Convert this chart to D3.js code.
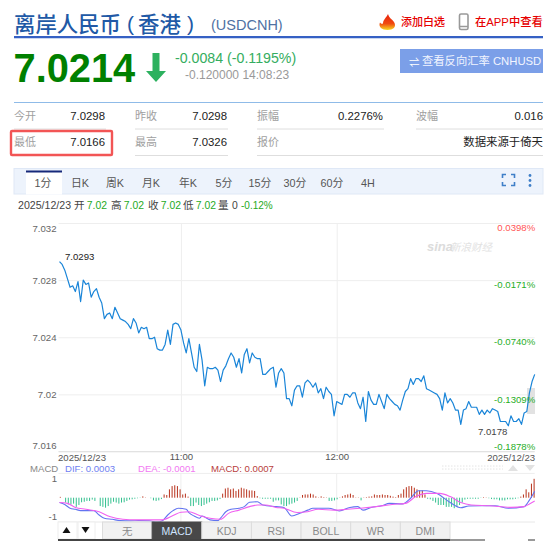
<!DOCTYPE html>
<html>
<head>
<meta charset="utf-8">
<title>离岸人民币（香港）</title>
<script src="https://cdn.jsdelivr.net/npm/d3@7/dist/d3.min.js"></script>
<style>
  html, body { margin: 0; padding: 0; background: #fff; }
  svg { display: block; font-family: "Liberation Sans", "Noto Sans CJK SC", sans-serif; }
  .domain { display: none; }
</style>
</head>
<body>
<div id="chart"></div>
<script>
// one-minute closes, USDCNH
var prices = [
  7.0293, 7.0291, 7.0287, 7.0281, 7.0275, 7.0276, 7.0272, 7.0279, 7.0265, 7.0280,
  7.0277, 7.0278, 7.0268, 7.0272, 7.0274, 7.0268, 7.0264, 7.0253, 7.0256, 7.0257,
  7.0253, 7.0261, 7.0257, 7.0253, 7.0252, 7.0251, 7.0249, 7.0246, 7.0253, 7.0250,
  7.0243, 7.0247, 7.0246, 7.0247, 7.0239, 7.0239, 7.0240, 7.0232, 7.0231, 7.0231,
  7.0235, 7.0245, 7.0235, 7.0249, 7.0250, 7.0249, 7.0245, 7.0236, 7.0229, 7.0239,
  7.0229, 7.0219, 7.0216, 7.0235, 7.0224, 7.0206, 7.0219, 7.0218, 7.0218, 7.0219,
  7.0217, 7.0209, 7.0217, 7.0220, 7.0225, 7.0229, 7.0226, 7.0219, 7.0225, 7.0215,
  7.0228, 7.0232, 7.0222, 7.0229, 7.0226, 7.0225, 7.0225, 7.0214, 7.0214, 7.0216,
  7.0218, 7.0219, 7.0205, 7.0215, 7.0218, 7.0215, 7.0197, 7.0197, 7.0192, 7.0203,
  7.0206, 7.0206, 7.0198, 7.0208, 7.0210, 7.0208, 7.0205, 7.0208, 7.0201, 7.0204,
  7.0197, 7.0205, 7.0202, 7.0200, 7.0185, 7.0195, 7.0194, 7.0193, 7.0200, 7.0200,
  7.0198, 7.0201, 7.0201, 7.0194, 7.0190, 7.0198, 7.0181, 7.0202, 7.0196, 7.0193,
  7.0193, 7.0200, 7.0195, 7.0190, 7.0200, 7.0197, 7.0195, 7.0193, 7.0192, 7.0189,
  7.0196, 7.0202, 7.0204, 7.0211, 7.0207, 7.0211, 7.0211, 7.0209, 7.0213, 7.0204,
  7.0203, 7.0202, 7.0201, 7.0200, 7.0197, 7.0189, 7.0201, 7.0194, 7.0197, 7.0194,
  7.0189, 7.0189, 7.0179, 7.0189, 7.0190, 7.0195, 7.0191, 7.0191, 7.0191, 7.0186,
  7.0189, 7.0186, 7.0189, 7.0187, 7.0190, 7.0189, 7.0188, 7.0181, 7.0181, 7.0181,
  7.0178, 7.0185, 7.0181, 7.0181, 7.0183, 7.0179, 7.0187, 7.0188, 7.0201, 7.0209,
  7.0214
];
var priceTicks = [7.032, 7.028, 7.024, 7.02, 7.016];
var pctLabels = ['0.0398%', '-0.0171%', '-0.0740%', '-0.1309%', '-0.1878%'];
var timeTickMinutes = [46, 105];
var timeTickLabels = ['11:00', '12:00'];

// MACD histogram, in units of 0.0001, one bar a minute
var macdBars = [
  0.3, 0, -1.8, -2.5, -2.5, -2.2, -3.4, -2.7, -1.7, -1.5, -1.2, -1.2, -0.7, -1.2, 0, -3.1, -3.4, -3.7, -3.1, -2.2,
  -1.5, -1.8, -2.2, -1.8, -1.7, -1.2, -0.7, -0.6, -0.4, -0.2, -0.1, 0.5, 0.1, 0, -0.2, -1.0, -1.2, -1.0, -0.5, 1.2,
  1.0, 3.1, 4.3, 4.6, 4.3, 3.1, 1.2, 1.5, 0.4, -3.1, -3.1, -1.8, -2.7, -3.1, -2.7, -2.2, -1.7, -1.2, -1.2, -1.0,
  -0.5, 1.5, 3.4, 3.7, 3.1, 3.4, 2.5, 3.1, 3.7, 3.4, 3.1, 2.7, 2.7, 2.5, 0.6, -0.2, -0.4, -0.4, -0.4, -0.4,
  -1.5, -1.0, -1.0, -2.5, -3.1, -3.1, -2.5, -2.2, -1.8, -1.2, 0.1, 1.0, 1.2, 1.2, 1.5, 1.2, 0.5, 0.1, 0.5, 0.2,
  0.1, -1.2, -1.2, -1.0, -0.6, 0.1, 0.5, 1.0, 1.2, 1.5, 1.0, 0.1, 0.1, -1.0, 0.1, 0.2, 0.4, 0.5, 1.2, 1.0,
  1.0, 1.2, 1.0, 1.0, 0.7, 0.4, 0.2, 1.0, 1.5, 3.1, 3.9, 4.3, 4.3, 3.7, 3.1, 2.7, 2.7, 1.2, -0.4, -0.6,
  -1.2, -1.8, -2.7, -2.7, -2.7, -3.4, -3.4, -3.4, -3.9, -3.4, -2.7, -1.8, -0.7, -0.4, -0.4, -0.4, -0.4, -0.4, -0.1, 0.2,
  0.1, -0.2, -0.5, -0.6, -0.6, -1.0, -1.0, -1.0, -0.6, -0.6, -0.6, -0.4, -0.2, 0.4, 1.2, 3.1, 2.0, 5.2, 7.0
];
var difMinutes = [0, 2, 4, 6, 8, 10, 13, 15, 17, 20, 23, 27, 30, 34, 37, 39, 41, 43, 45, 48, 49, 51, 53, 54, 57, 60, 61, 63, 65, 68, 70, 72, 75, 77, 82, 85, 88, 91, 94, 96, 99, 102, 106, 110, 113, 115, 118, 122, 125, 130, 133, 136, 139, 143, 148, 152, 155, 160, 165, 170, 176, 178, 180];
var difValues = [-1.8, -2.5, -3.9, -4.3, -4.8, -4.8, -4.8, -6.4, -7.6, -8.0, -8.5, -8.6, -8.5, -8.6, -9.0, -8.5, -6.4, -4.8, -3.9, -4.3, -5.5, -6.8, -7.6, -6.8, -8.2, -8.5, -7.6, -5.2, -4.3, -3.9, -3.3, -1.7, -1.5, -2.7, -3.3, -3.6, -6.8, -5.8, -4.6, -3.9, -3.9, -3.9, -4.9, -3.6, -3.3, -4.6, -3.6, -3.0, -2.1, -2.3, -0.2, 2.6, 2.6, 1.6, -1.8, -3.7, -3.1, -3.0, -3.0, -3.9, -3.3, -0.9, 2.4];
var deaMinutes = [0, 3, 6, 10, 15, 19, 24, 29, 34, 39, 43, 46, 49, 53, 57, 61, 64, 68, 72, 75, 78, 82, 85, 90, 94, 98, 104, 109, 114, 120, 126, 131, 135, 139, 144, 148, 152, 156, 163, 171, 176, 178, 180];
var deaValues = [-1.8, -2.1, -3.6, -4.3, -5.2, -7.0, -8.0, -8.2, -8.2, -8.2, -6.6, -5.4, -5.2, -6.6, -7.6, -8.0, -5.8, -4.6, -3.3, -2.7, -2.7, -3.6, -3.9, -5.5, -5.2, -4.3, -4.6, -4.3, -3.9, -3.3, -2.5, -2.1, 0.4, 1.6, 1.6, 0.4, -1.8, -2.7, -3.0, -3.6, -3.3, -2.3, -1.2];

var quoteLabels = [['今开', '7.0298', '昨收', '7.0298', '振幅', '0.2276%', '波幅', '0.016'],
                   ['最低', '7.0166', '最高', '7.0326', '报价', '', '', '数据来源于倚天']];
var periodTabs = ['1分', '日K', '周K', '月K', '年K', '5分', '15分', '30分', '60分', '4H'];
var indicatorTabs = ['无', 'MACD', 'KDJ', 'RSI', 'BOLL', 'WR', 'DMI'];

var W = 550, H = 541;
var svg = d3.select('#chart').append('svg').attr('width', W).attr('height', H).attr('viewBox', [0, 0, W, H]);

function txt(x, y, s, size, fill, anchor, weight) {
  return svg.append('text').attr('x', x).attr('y', y).attr('dy', '.35em').text(s)
    .attr('font-size', size).attr('fill', fill)
    .attr('text-anchor', anchor || 'start').attr('font-weight', weight || null);
}
function rule(x1, x2, y, color, w) {
  return svg.append('line').attr('x1', x1).attr('x2', x2).attr('y1', y).attr('y2', y)
    .attr('stroke', color).attr('stroke-width', w || 1);
}

// ---- header
var titleBlue = '#2159a6';
txt(14, 25, '离岸人民币', 21.4, titleBlue, 'start', 500);
txt(127, 24, '(', 21, titleBlue, 'start', 500);
txt(138, 25, '香港', 21.4, titleBlue, 'start', 500);
txt(187, 24, ')', 21, titleBlue, 'start', 500);
txt(211, 25, '(USDCNH)', 14.5, '#4f71a3');
rule(14, 543, 37, '#3560c4', 2);
rule(14, 543, 38.5, '#c9d6f0', 1);

svg.append('defs').append('linearGradient').attr('id', 'flame').attr('x1', 0).attr('x2', 0).attr('y1', 0).attr('y2', 1)
  .selectAll('stop').data([[0, '#e8200c'], [0.6, '#f04a10'], [1, '#f8d820']]).join('stop')
  .attr('offset', function (d) { return d[0]; }).attr('stop-color', function (d) { return d[1]; });
svg.append('path').attr('fill', 'url(#flame)')
  .attr('d', 'M388,14 C389,18 392,19 394,22 C397,27 393,30 387.5,30 C382,30 378,27 380,22.5 C381,24 382,24 383,23.5 C383,20 386,18 388,14Z');
txt(401, 22, '添加白选', 11, '#e60000', 'start', 500);
svg.append('rect').attr('x', 459.5).attr('y', 14).attr('width', 8.5).attr('height', 15.5).attr('rx', 1.5)
  .attr('fill', '#fff').attr('stroke', '#999').attr('stroke-width', 1.6);
rule(460, 468, 26.5, '#999', 1.5);
txt(475, 22, '在APP中查看', 11.3, '#e60000', 'start', 500);

txt(13.5, 68.5, '7.0214', 39.8, '#008000', 'start', 'bold');
svg.append('path').attr('fill', '#2db15f').attr('d', 'M152.5,53 H159.5 V71 H166 L156,82 L146,71 H152.5 Z');
txt(175, 58.5, '-0.0084 (-0.1195%)', 14.2, '#35ad60');
txt(185, 75, '-0.120000 14:08:23', 12, '#999');

svg.append('rect').attr('x', 400).attr('y', 49).attr('width', 143).attr('height', 24).attr('fill', '#7b9fe8');
txt(409, 62, '⇌', 10.5, '#fff');
txt(422, 61, '查看反向汇率 CNHUSD', 11.3, '#f2f5ff');
rule(14, 543, 102.5, '#8fbbe8', 1);

// ---- quote table
var labelX = [14, 135, 257, 416], valueX = [105, 227, 383, 543], rowY = [116, 142.5], lineX2 = [106, 228, 384, 543];
quoteLabels.forEach(function (row, r) {
  [0, 1, 2, 3].forEach(function (c) {
    txt(labelX[c], rowY[r], row[c * 2], 11, '#a0a0a0');
    txt(valueX[c], rowY[r], row[c * 2 + 1], 11.4, '#222', 'end');
    // the last row's 报价 cell runs on into the source note, so its rule is unbroken
    var x2 = (r === 1 && c === 2) ? 543 : lineX2[c];
    rule(labelX[c], x2, rowY[r] + 13, '#dedede', 1);
  });
});
svg.append('rect').attr('x', 11).attr('y', 131).attr('width', 101).attr('height', 24).attr('rx', 1)
  .attr('fill', 'none').attr('stroke', '#f25555').attr('stroke-width', 2.4);

// ---- period tabs
svg.append('rect').attr('x', 14).attr('y', 168.5).attr('width', 529).attr('height', 25.5)
  .attr('fill', '#edf3fc').attr('stroke', '#dfe8f6');
svg.append('rect').attr('x', 26).attr('y', 171).attr('width', 36).attr('height', 23.5).attr('fill', '#fff');
rule(26, 62, 171.5, '#16297a', 2);
var tabCenters = [43, 80, 115, 151, 188, 224, 260, 295, 332, 368];
periodTabs.forEach(function (t, i) { txt(tabCenters[i], 183, t, 10.8, '#555', 'middle'); });
svg.append('path').attr('fill', 'none').attr('stroke', '#3f7fc8').attr('stroke-width', 1.6)
  .attr('d', 'M502.5,178 V174.5 H506 M511,174.5 H514.5 V178 M514.5,182 V185.5 H511 M506,185.5 H502.5 V182');
svg.selectAll('circle.dot').data([0, 1, 2]).join('circle').attr('class', 'dot')
  .attr('cx', 530).attr('cy', function (d) { return 175.5 + d * 5; }).attr('r', 1.4).attr('fill', '#3f7fc8');

// ---- info line
var infoGrey = '#444', infoGreen = '#1eaa1e';
txt(18, 205.5, '2025/12/23', 10.6, infoGrey);
[[74, '开'], [111, '高'], [148, '收'], [183, '低']].forEach(function (d) {
  txt(d[0], 205.5, d[1], 10.6, infoGrey);
  txt(d[0] + 12.8, 205.5, '7.02', 10.4, infoGreen);
});
txt(218, 205.5, '量', 10.6, infoGrey);
txt(232, 205.5, '0', 10.4, infoGrey);
txt(241, 205.5, '-0.12%', 10, infoGreen);

// ---- price panel
var plotL = 59.5, plotR = 534.7;
var x = d3.scaleLinear().domain([0, prices.length - 1]).range([plotL, plotR]);
var y = d3.scaleLinear().domain([7.016, 7.032]).range([451.5, 223]);

var gridY = svg.append('g').attr('transform', 'translate(' + (plotL - 1) + ',0)').attr('font-family', 'inherit')
  .call(d3.axisLeft(y).tickValues(priceTicks).tickSize(-(plotR - plotL + 1)).tickPadding(2)
    .tickFormat(function (d) { return d3.format('')(+d.toFixed(3)); }));
gridY.selectAll('line').attr('stroke', '#eee');
gridY.selectAll('text').attr('font-size', 9.6).attr('fill', '#666')
  .attr('dy', function (d, i) { return i === 0 ? '.86em' : i === priceTicks.length - 1 ? '-.34em' : '.32em'; });

// the bottom gridline is heavier than the others
rule(plotL - 1, plotR, y(7.016), '#e2e2e2', 1);

var gridX = svg.append('g').attr('transform', 'translate(0,' + y(7.016) + ')').attr('font-family', 'inherit')
  .call(d3.axisBottom(x).tickValues(timeTickMinutes).tickSize(-(y(7.016) - y(7.032))).tickPadding(2)
    .tickFormat(function (d, i) { return timeTickLabels[i]; }));
gridX.selectAll('line').attr('stroke', '#eee');
gridX.selectAll('text').attr('font-size', 9.6).attr('fill', '#555');

// grey block at the right edge
svg.append('rect').attr('x', 527).attr('y', 388).attr('width', 8).attr('height', 26).attr('fill', '#e2e2e2');

// watermark
svg.append('text').attr('x', 427).attr('y', 251).text('sina').attr('font-size', 13).attr('font-weight', 'bold')
  .attr('font-style', 'italic').attr('fill', '#dcdcdc');
svg.append('text').attr('x', 450).attr('y', 251).text('新浪财经').attr('font-size', 10.5)
  .attr('font-style', 'italic').attr('fill', '#e2e2e2');

svg.append('path').datum(prices).attr('fill', 'none').attr('stroke', '#1a85d8').attr('stroke-width', 1.2)
  .attr('stroke-linejoin', 'round')
  .attr('d', d3.line().x(function (d, i) { return x(i); }).y(function (d) { return y(d); }));

var pctColors = ['#f55', '#1fae1f', '#1fae1f', '#1fae1f', '#1fae1f'];
var pctOffset = [5, 4.5, 4.5, 5.5, -4.5];
pctLabels.forEach(function (s, i) {
  txt(plotR + 0.5, y(priceTicks[i]) + pctOffset[i], s, 9.6, pctColors[i], 'end');
});
txt(65, 257, '7.0293', 9.6, '#222');
txt(478, 432, '7.0178', 9.6, '#444');
txt(58, 457.8, '2025/12/23', 9.6, '#555');
txt(plotR + 0.5, 457.8, '2025/12/23', 9.6, '#555', 'end');

// dotted slider strip and arrows under the axis
rule(442, 503, 466, '#e4e4e4', 1).attr('stroke-dasharray', '1.5,1.5');
rule(442, 503, 469, '#e4e4e4', 1).attr('stroke-dasharray', '1.5,1.5');
svg.append('path').attr('fill', '#e2e2e2').attr('d', 'M513,465 L518,471 H508 Z M525,465 H535 L530,471 Z');

// ---- MACD panel
txt(30, 468.4, 'MACD', 9.6, '#888');
txt(65, 468.4, 'DIF: 0.0003', 9.6, '#6f7ff2');
txt(138, 468.4, 'DEA: -0.0001', 9.6, '#f27af2');
txt(211, 468.4, 'MACD: 0.0007', 9.6, '#b84040');

var mY = d3.scaleLinear().domain([-9, 9]).range([522, 473.4]);
var mX = d3.scaleLinear().domain([0, 180]).range([plotL, plotR]);
var barX = d3.scaleLinear().domain([0, macdBars.length - 1]).range([plotL + 0.8, plotR - 0.6]);

rule(plotL - 1, plotR, mY(9), '#eee', 1);
svg.append('g').selectAll('line').data(timeTickMinutes).join('line')
  .attr('x1', function (d) { return x(d); }).attr('x2', function (d) { return x(d); })
  .attr('y1', mY(9)).attr('y2', mY(-9)).attr('stroke', '#eee');
txt(57, 479, '1', 9.6, '#666', 'end');
txt(57, 517, '-1', 9.6, '#666', 'end');

svg.append('g').selectAll('line').data(macdBars).join('line')
  .attr('x1', function (d, i) { return barX(i); }).attr('x2', function (d, i) { return barX(i); })
  .attr('y1', mY(0)).attr('y2', function (d) { return mY(d); })
  .attr('stroke', function (d) { return d >= 0 ? '#b8321c' : '#33c08f'; }).attr('stroke-width', 1);

function macdLine(mins, vals, color) {
  svg.append('path').datum(vals).attr('fill', 'none').attr('stroke', color).attr('stroke-width', 1.1)
    .attr('d', d3.line().curve(d3.curveMonotoneX)
      .x(function (d, i) { return mX(mins[i]); }).y(function (d) { return mY(d); }));
}
macdLine(difMinutes, difValues, '#6274f0');
macdLine(deaMinutes, deaValues, '#f060f0');

// ---- indicator tabs
var btnY = 522, btnH = 17;
rule(58, 535, btnY, '#e8e8e8', 1);
[[58, 19, 'M62.5,533 L66.5,527 L70.5,533 Z'], [78, 17, 'M81.5,527 H89.5 L85.5,533 Z']].forEach(function (b) {
  svg.append('rect').attr('x', b[0]).attr('y', btnY).attr('width', b[1]).attr('height', btnH)
    .attr('fill', '#fff').attr('stroke', '#eee');
  svg.append('path').attr('d', b[2]).attr('fill', '#111');
});
var tabX = d3.scaleLinear().domain([0, indicatorTabs.length]).range([102.5, 450]);
indicatorTabs.forEach(function (t, i) {
  var active = t === 'MACD';
  svg.append('rect').attr('x', tabX(i)).attr('y', btnY).attr('width', tabX(1) - tabX(0)).attr('height', btnH)
    .attr('fill', active ? '#484848' : '#f1f1f1').attr('stroke', active ? '#484848' : '#dcdcdc');
  txt((tabX(i) + tabX(i + 1)) / 2, btnY + 9, t, 10.5, active ? '#cfe4ff' : '#8a8a8a', 'middle');
});
rule(58, 450, 540, '#444', 2);
rule(450, 485, 540, '#999', 2);
rule(528, 535, 540, '#999', 2);
</script>
</body>
</html>
